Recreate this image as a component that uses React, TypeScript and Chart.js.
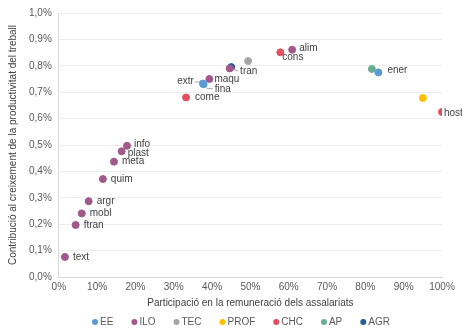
import React, { useEffect, useRef } from "react";
import { Chart, registerables } from "chart.js";
Chart.register(...registerables);

const groupNames = ["EE", "ILO", "TEC", "PROF", "CHC", "AP", "AGR"];
const groupColors = ["#5B9BD5", "#A0598A", "#A5A5A5", "#FFC000", "#E0505F", "#6AAF95", "#255E91"];

const sectors = ["text", "ftran", "mobl", "argr", "quim", "meta", "plast", "info", "come", "extr", "fina", "maqu", "", "", "tran", "cons", "alim", "", "ener", "", "host"];
const sectorGroups = ["ILO", "ILO", "ILO", "ILO", "ILO", "ILO", "ILO", "ILO", "CHC", "EE", "EE", "ILO", "ILO", "AGR", "TEC", "CHC", "ILO", "AP", "EE", "PROF", "CHC"];
const xValues = [1.6, 4.4, 6.0, 7.8, 11.5, 14.4, 16.4, 17.8, 33.2, 37.6, 37.8, 39.3, 44.6, 45.0, 49.4, 57.8, 60.9, 81.7, 83.4, 95.0, 100.0];
const yValues = [0.076, 0.197, 0.241, 0.287, 0.371, 0.437, 0.476, 0.497, 0.68, 0.733, 0.730, 0.75, 0.79, 0.795, 0.818, 0.851, 0.861, 0.788, 0.775, 0.678, 0.625];

// [dx, dy, alignRight?] relative to the point, in pixels
const labelPlacement: Record<string, [number, number, boolean?]> = {
  text: [8, 0],
  ftran: [8, 0],
  mobl: [8, 0],
  argr: [8, 0],
  quim: [8, 0],
  meta: [8, 0],
  plast: [6, 2],
  info: [7, -2],
  come: [9, 0],
  extr: [-9, -2, true],
  fina: [11, 5],
  maqu: [5, 0],
  tran: [-8, 10],
  cons: [2, 5],
  alim: [7, -1],
  ener: [9, -2],
  host: [2, 1],
};

// leader lines [x1, y1, x2, y2] relative to the point
const leaders: Record<string, [number, number, number, number]> = {
  extr: [-8, -1.5, -3, -1.5],
  fina: [3, 4, 9, 4.5],
  tran: [-15, 8, -10, 10],
};

const FONT = "'Liberation Sans', Arial, sans-serif";

const pointLabels = {
  id: "pointLabels",
  afterDatasetsDraw(chart: any) {
    const ctx = chart.ctx;
    ctx.save();
    ctx.font = "10px " + FONT;
    ctx.textBaseline = "middle";
    chart.data.datasets.forEach((ds: any, di: number) => {
      const meta = chart.getDatasetMeta(di);
      ds.data.forEach((p: any, i: number) => {
        if (!p.label) return;
        const el = meta.data[i];
        const ld = leaders[p.label];
        if (ld) {
          ctx.strokeStyle = "#A6A6A6";
          ctx.lineWidth = 1;
          ctx.beginPath();
          ctx.moveTo(el.x + ld[0], el.y + ld[1]);
          ctx.lineTo(el.x + ld[2], el.y + ld[3]);
          ctx.stroke();
        }
        const pl = labelPlacement[p.label] || [8, 0];
        ctx.fillStyle = "#404040";
        ctx.textAlign = pl[2] ? "right" : "left";
        ctx.fillText(p.label, el.x + pl[0], el.y + pl[1]);
      });
    });
    ctx.restore();
  },
};

const bottomLegend = {
  id: "bottomLegend",
  afterDraw(chart: any) {
    const ctx = chart.ctx;
    ctx.save();
    ctx.font = "10px " + FONT;
    ctx.textBaseline = "middle";
    ctx.textAlign = "left";
    const ds = chart.data.datasets;
    const gap = 21;
    const textOff = 5;
    const widths = ds.map((d: any) => ctx.measureText(d.label).width);
    let total = 0;
    widths.forEach((w: number, i: number) => {
      total += 3 + textOff + w + (i < widths.length - 1 ? gap - 3 : 0);
    });
    let x = chart.width / 2 + 10 - total / 2 + 3;
    const y = chart.height - 13;
    ds.forEach((d: any, i: number) => {
      ctx.fillStyle = d.backgroundColor;
      ctx.beginPath();
      ctx.arc(x, y, 3, 0, Math.PI * 2);
      ctx.fill();
      ctx.fillStyle = "#595959";
      ctx.fillText(d.label, x + textOff, y);
      x += textOff + widths[i] + gap;
    });
    ctx.restore();
  },
};

export default function App() {
  const ref = useRef<HTMLCanvasElement>(null);
  useEffect(() => {
    document.body.style.margin = "0";
    const datasets = groupNames.map((g, gi) => ({
      label: g,
      data: sectors
        .map((s, i) => ({ x: xValues[i], y: yValues[i], label: s, g: sectorGroups[i] }))
        .filter((p) => p.g === g),
      backgroundColor: groupColors[gi],
      borderColor: groupColors[gi],
      pointRadius: 3.5,
      pointStyle: "circle",
    }));
    const chart = new Chart(ref.current!, {
      type: "scatter",
      data: { datasets },
      plugins: [pointLabels, bottomLegend],
      options: {
        animation: false,
        responsive: false,
        layout: { padding: { top: 12, right: 20, left: 7, bottom: 26 } },
        scales: {
          x: {
            min: 0,
            max: 100,
            ticks: {
              stepSize: 10,
              color: "#595959",
              padding: 4,
              font: { size: 10, family: FONT },
              callback: (v: any) => v + "%",
              maxRotation: 0,
            },
            grid: { display: false, drawTicks: false },
            border: { color: "#D9D9D9" },
            title: {
              display: true,
              text: "Participació en la remuneració dels assalariats",
              color: "#404040",
              font: { size: 10, family: FONT },
              padding: { top: 0, bottom: 0 },
            },
          },
          y: {
            min: 0,
            max: 1,
            ticks: {
              stepSize: 0.1,
              color: "#595959",
              padding: 7,
              font: { size: 10, family: FONT },
              callback: (v: any) => Number(v).toFixed(1).replace(".", ",") + "%",
            },
            grid: { color: "#EDEDED", drawTicks: false },
            border: { color: "#D9D9D9" },
            title: {
              display: true,
              text: "Contribució al creixement de la productivitat del treball",
              color: "#404040",
              font: { size: 10, family: FONT },
              padding: { top: 0, bottom: 3 },
            },
          },
        },
        plugins: {
          tooltip: { enabled: false },
          legend: { display: false },
        },
      } as any,
    });
    return () => chart.destroy();
  }, []);
  return <canvas ref={ref} width={462} height={335} style={{ display: "block" }} />;
}
